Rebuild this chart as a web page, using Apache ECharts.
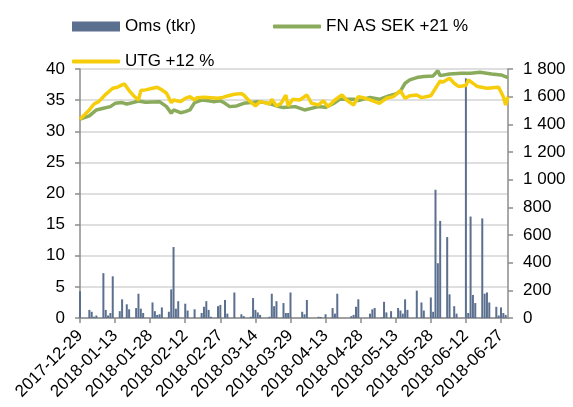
<!DOCTYPE html>
<html>
<head>
<meta charset="utf-8">
<script src="https://cdn.jsdelivr.net/npm/echarts@6/dist/echarts.min.js"></script>
<style>
  html, body { margin: 0; padding: 0; background: #fff; }
</style>
</head>
<body>
<div id="ChartMain" style="width:573px;height:407px;"></div>
<script>
// kalenderdagar på x-axeln
var firstDay = '2017-12-29'
var dayCount = 184

// Oms (tkr), vänster axel
var omsDates = ['2017-12-29', '2018-01-02', '2018-01-03', '2018-01-04', '2018-01-05', '2018-01-08', '2018-01-09', '2018-01-10', '2018-01-11', '2018-01-12',
  '2018-01-15', '2018-01-16', '2018-01-18', '2018-01-19', '2018-01-22', '2018-01-23', '2018-01-24', '2018-01-25', '2018-01-29', '2018-01-30',
  '2018-01-31', '2018-02-01', '2018-02-02', '2018-02-05', '2018-02-06', '2018-02-07', '2018-02-08', '2018-02-09', '2018-02-12', '2018-02-13',
  '2018-02-16', '2018-02-19', '2018-02-20', '2018-02-21', '2018-02-22', '2018-02-23', '2018-02-26', '2018-02-27', '2018-03-01', '2018-03-02',
  '2018-03-05', '2018-03-08', '2018-03-09', '2018-03-12', '2018-03-13', '2018-03-14', '2018-03-15', '2018-03-16', '2018-03-20', '2018-03-21',
  '2018-03-22', '2018-03-23', '2018-03-26', '2018-03-27', '2018-03-28', '2018-03-29', '2018-04-03', '2018-04-04', '2018-04-05', '2018-04-10',
  '2018-04-11', '2018-04-13', '2018-04-16', '2018-04-17', '2018-04-18', '2018-04-24', '2018-04-25', '2018-04-26', '2018-04-27', '2018-05-02',
  '2018-05-03', '2018-05-04', '2018-05-07', '2018-05-08', '2018-05-09', '2018-05-11', '2018-05-14', '2018-05-15', '2018-05-16', '2018-05-17',
  '2018-05-18', '2018-05-22', '2018-05-24', '2018-05-25', '2018-05-28', '2018-05-29', '2018-05-30', '2018-05-31', '2018-06-01', '2018-06-04',
  '2018-06-05', '2018-06-07', '2018-06-08', '2018-06-12', '2018-06-13', '2018-06-14', '2018-06-15', '2018-06-16', '2018-06-19', '2018-06-20',
  '2018-06-21', '2018-06-22', '2018-06-25', '2018-06-26', '2018-06-27', '2018-06-28', '2018-06-29']
var omsValues = [4.3, 1.3, 1.0, 0.2, 0.4, 7.2, 1.3, 0.4, 0.8, 6.7,
  1.1, 3.0, 2.2, 1.4, 1.6, 3.9, 1.5, 0.8, 2.5, 1.1,
  0.5, 0.6, 1.7, 1.0, 4.6, 11.4, 1.5, 2.7, 2.3, 1.2,
  1.4, 0.8, 1.8, 2.7, 1.3, 0.2, 1.9, 2.1, 2.9, 0.7,
  4.1, 0.6, 0.3, 0.2, 3.2, 1.3, 0.9, 0.5, 0.2, 3.9,
  1.9, 2.7, 2.4, 0.8, 0.8, 4.1, 1.0, 0.6, 2.9, 0.2,
  0.15, 0.6, 1.6, 0.7, 3.9, 0.3, 0.5, 1.8, 3.0, 0.7,
  1.4, 1.6, 0.1, 2.6, 0.9, 1.1, 1.6, 1.2, 0.7, 3.0,
  1.3, 4.4, 2.5, 1.2, 3.3, 1.0, 20.6, 8.8, 15.6, 13.0,
  3.8, 1.9, 0.7, 38.5, 0.8, 16.3, 3.7, 2.4, 16.0, 3.9,
  4.1, 2.5, 1.8, 0.4, 1.7, 0.8, 0.5]

// FN AS SEK +21 %, höger axel
var fnDates = ['2017-12-29', '2018-01-02', '2018-01-05', '2018-01-08', '2018-01-11', '2018-01-13', '2018-01-16', '2018-01-18', '2018-01-21', '2018-01-23',
  '2018-01-26', '2018-01-29', '2018-02-01', '2018-02-04', '2018-02-06', '2018-02-07', '2018-02-10', '2018-02-12', '2018-02-14', '2018-02-16',
  '2018-02-19', '2018-02-22', '2018-02-24', '2018-02-27', '2018-03-01', '2018-03-03', '2018-03-06', '2018-03-09', '2018-03-12', '2018-03-15',
  '2018-03-18', '2018-03-21', '2018-03-24', '2018-03-26', '2018-03-31', '2018-04-04', '2018-04-10', '2018-04-13', '2018-04-17', '2018-04-19',
  '2018-04-25', '2018-04-27', '2018-05-02', '2018-05-06', '2018-05-10', '2018-05-13', '2018-05-15', '2018-05-17', '2018-05-19', '2018-05-22',
  '2018-05-25', '2018-05-29', '2018-05-31', '2018-06-01', '2018-06-05', '2018-06-10', '2018-06-14', '2018-06-18', '2018-06-23', '2018-06-27',
  '2018-06-30']
var fnValues = [1437, 1461, 1504, 1516, 1528, 1552, 1557, 1547, 1559, 1569,
  1559, 1562, 1564, 1528, 1480, 1504, 1484, 1492, 1504, 1557,
  1576, 1571, 1564, 1571, 1552, 1528, 1533, 1552, 1557, 1564,
  1557, 1545, 1528, 1521, 1528, 1504, 1528, 1523, 1557, 1581,
  1581, 1571, 1595, 1581, 1605, 1620, 1640, 1697, 1721, 1738,
  1745, 1750, 1788, 1752, 1764, 1769, 1769, 1776, 1764, 1757,
  1738]

// UTG +12 %, höger axel
var utgDates = ['2017-12-29', '2018-01-02', '2018-01-04', '2018-01-06', '2018-01-09', '2018-01-12', '2018-01-14', '2018-01-16', '2018-01-17', '2018-01-19',
  '2018-01-21', '2018-01-23', '2018-01-24', '2018-01-26', '2018-01-29', '2018-01-31', '2018-02-02', '2018-02-04', '2018-02-06', '2018-02-07',
  '2018-02-10', '2018-02-12', '2018-02-14', '2018-02-16', '2018-02-17', '2018-02-20', '2018-02-23', '2018-02-26', '2018-02-28', '2018-03-02',
  '2018-03-05', '2018-03-08', '2018-03-09', '2018-03-11', '2018-03-14', '2018-03-16', '2018-03-18', '2018-03-20', '2018-03-21', '2018-03-23',
  '2018-03-25', '2018-03-27', '2018-03-28', '2018-03-30', '2018-04-02', '2018-04-05', '2018-04-07', '2018-04-10', '2018-04-12', '2018-04-14',
  '2018-04-17', '2018-04-20', '2018-04-22', '2018-04-25', '2018-04-27', '2018-04-30', '2018-05-03', '2018-05-06', '2018-05-09', '2018-05-12',
  '2018-05-15', '2018-05-17', '2018-05-19', '2018-05-22', '2018-05-24', '2018-05-28', '2018-06-01', '2018-06-02', '2018-06-05', '2018-06-07',
  '2018-06-09', '2018-06-12', '2018-06-13', '2018-06-17', '2018-06-21', '2018-06-26', '2018-06-28', '2018-06-29', '2018-06-30']
var utgValues = [1437, 1504, 1547, 1564, 1617, 1661, 1668, 1685, 1692, 1644,
  1605, 1576, 1644, 1649, 1661, 1668, 1649, 1625, 1557, 1576,
  1564, 1588, 1600, 1576, 1593, 1595, 1593, 1588, 1595, 1605,
  1617, 1622, 1612, 1576, 1533, 1564, 1557, 1547, 1581, 1533,
  1552, 1612, 1533, 1581, 1576, 1612, 1552, 1540, 1571, 1528,
  1576, 1612, 1576, 1540, 1600, 1588, 1571, 1552, 1588, 1600,
  1644, 1588, 1607, 1612, 1593, 1607, 1714, 1704, 1733, 1697,
  1673, 1680, 1721, 1673, 1661, 1668, 1600, 1540, 1600]

var leftTicks = { min: 0, max: 40, interval: 5 }
var rightTicks = { min: 0, max: 1800, interval: 200 }

function buildDays (start, count) {
  let list = []
  let d = new Date(start + 'T00:00:00Z')
  for (let i = 0; i < count; i++) {
    list.push(d.toISOString().slice(0, 10))
    d.setUTCDate(d.getUTCDate() + 1)
  }
  return list
}

function pairs (dates, values) {
  let out = []
  dates.forEach((val, index) => {
    out.push([val, values[index]])
  })
  return out
}

function spaceThousands (v) {
  return String(v).replace(/\B(?=(\d{3})+$)/g, ' ')
}

let days = buildDays(firstDay, dayCount)
let axisGray = '#8c8c8c'
let font = 'Liberation Sans, Arial, sans-serif'
let legendText = { fontSize: 17, color: '#000', fontFamily: font }

let Chart = echarts.init(document.getElementById('ChartMain'))
Chart.setOption({
  backgroundColor: '#fff',
  animation: false,
  textStyle: { fontFamily: font },
  legend: [
    {
      data: [{ name: 'Oms (tkr)', icon: 'rect' }],
      left: 67,
      top: 13,
      itemWidth: 48,
      itemHeight: 10,
      textStyle: legendText
    },
    {
      data: [{ name: 'FN AS SEK +21 %', icon: 'roundRect' }],
      left: 268,
      top: 13,
      itemWidth: 48,
      itemHeight: 4,
      textStyle: legendText
    },
    {
      data: [{ name: 'UTG +12 %', icon: 'roundRect' }],
      left: 67,
      top: 48,
      itemWidth: 48,
      itemHeight: 4,
      textStyle: legendText
    }
  ],
  grid: {
    left: 80,
    right: 65,
    top: 69,
    bottom: 89,
    containLabel: false
  },
  xAxis: {
    type: 'category',
    data: days,
    boundaryGap: false,
    axisLine: { lineStyle: { color: axisGray, width: 1.5 } },
    axisTick: { interval: 14, length: 5, lineStyle: { color: axisGray, width: 1.5 } },
    axisLabel: { interval: 14, rotate: 45, fontSize: 17, color: '#000', margin: 15, fontFamily: font },
    splitLine: { show: false }
  },
  yAxis: [
    {
      type: 'value',
      min: leftTicks.min,
      max: leftTicks.max,
      interval: leftTicks.interval,
      axisLine: { show: true, lineStyle: { color: axisGray, width: 1.5 } },
      axisTick: { show: true, length: 5, lineStyle: { color: axisGray, width: 1.5 } },
      axisLabel: { fontSize: 17, color: '#000', margin: 15, fontFamily: font },
      splitLine: { show: true, lineStyle: { color: '#d4d4d4', width: 1.5 } }
    },
    {
      type: 'value',
      min: rightTicks.min,
      max: rightTicks.max,
      interval: rightTicks.interval,
      axisLine: { show: true, lineStyle: { color: axisGray, width: 1.5 } },
      axisTick: { show: true, length: 5, lineStyle: { color: axisGray, width: 1.5 } },
      axisLabel: { fontSize: 17, color: '#000', margin: 15, fontFamily: font, formatter: spaceThousands },
      splitLine: { show: false }
    }
  ],
  series: [
    {
      name: 'Oms (tkr)',
      type: 'bar',
      yAxisIndex: 0,
      barWidth: 2,
      itemStyle: { color: '#5b6f8e' },
      data: pairs(omsDates, omsValues)
    },
    {
      name: 'FN AS SEK +21 %',
      type: 'line',
      yAxisIndex: 1,
      symbol: 'none',
      connectNulls: true,
      lineStyle: { color: '#8aab5c', width: 3.5 },
      itemStyle: { color: '#8aab5c' },
      data: pairs(fnDates, fnValues)
    },
    {
      name: 'UTG +12 %',
      type: 'line',
      yAxisIndex: 1,
      symbol: 'none',
      connectNulls: true,
      lineStyle: { color: '#f5cd0a', width: 3.5 },
      itemStyle: { color: '#f5cd0a' },
      data: pairs(utgDates, utgValues)
    }
  ]
})
</script>
</body>
</html>
